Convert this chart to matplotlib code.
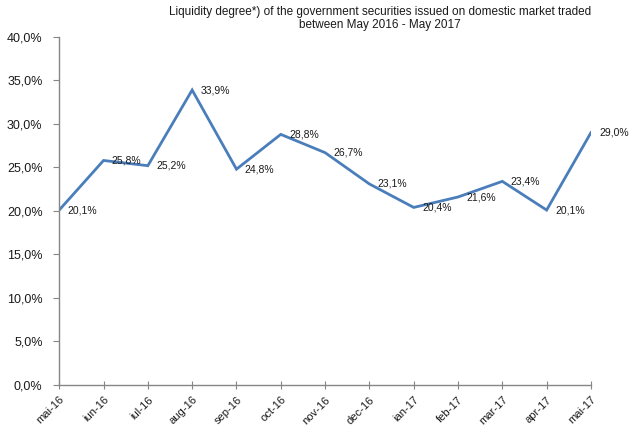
"""Liquidity degree of government securities traded on the domestic market, May 2016 - May 2017."""

import matplotlib

matplotlib.use("Agg")
import matplotlib.pyplot as plt
from matplotlib.ticker import FuncFormatter

MONTHS = ["mai-16", "iun-16", "iul-16", "aug-16", "sep-16", "oct-16", "nov-16",
          "dec-16", "ian-17", "feb-17", "mar-17", "apr-17", "mai-17"]
LIQUIDITY = [20.1, 25.8, 25.2, 33.9, 24.8, 28.8, 26.7, 23.1, 20.4, 21.6, 23.4, 20.1, 29.0]
Y_TICKS = [0, 5, 10, 15, 20, 25, 30, 35, 40]

TITLE = ("Liquidity degree*) of the government securities issued on domestic market traded\n"
         "between May 2016 - May 2017")


def pct(v: float) -> str:
    return f"{v:.1f}%".replace(".", ",")


def main() -> None:
    plt.rcParams["font.family"] = ["Liberation Sans", "DejaVu Sans"]
    fig = plt.figure(figsize=(6.3, 4.3), dpi=100)
    ax = fig.add_axes([0.094, 0.105, 0.844, 0.809])

    x = list(range(len(MONTHS)))
    ax.plot(x, LIQUIDITY, color="#4a7ebb", linewidth=2.0, solid_joinstyle="miter")
    for xi, v in zip(x, LIQUIDITY):
        ax.annotate(pct(v), (xi, v), xytext=(6, 0), textcoords="offset points",
                    ha="left", va="center", fontsize=7.5, color="#1a1a1a")

    ax.set_xlim(0, len(MONTHS) - 1)
    ax.set_ylim(0, 40)
    ax.set_yticks(Y_TICKS)
    ax.yaxis.set_major_formatter(FuncFormatter(lambda v, _: pct(v)))
    ax.set_xticks(x)
    ax.set_xticklabels(MONTHS, rotation=45, ha="right", rotation_mode="anchor")

    for side in ("top", "right"):
        ax.spines[side].set_visible(False)
    for side in ("left", "bottom"):
        ax.spines[side].set_color("#868686")
        ax.spines[side].set_linewidth(1.0)
    ax.tick_params(axis="y", direction="out", length=4, color="#868686",
                   labelsize=9, labelcolor="#1a1a1a", pad=8)
    ax.tick_params(axis="x", direction="inout", length=6, color="#868686",
                   labelsize=8, labelcolor="#1a1a1a", pad=4)

    fig.text(0.603, 0.985, TITLE, ha="center", va="top", fontsize=8.5,
             linespacing=1.1, color="#1a1a1a")

    fig.savefig("out.png", dpi=100)
    plt.close(fig)


if __name__ == "__main__":
    main()
